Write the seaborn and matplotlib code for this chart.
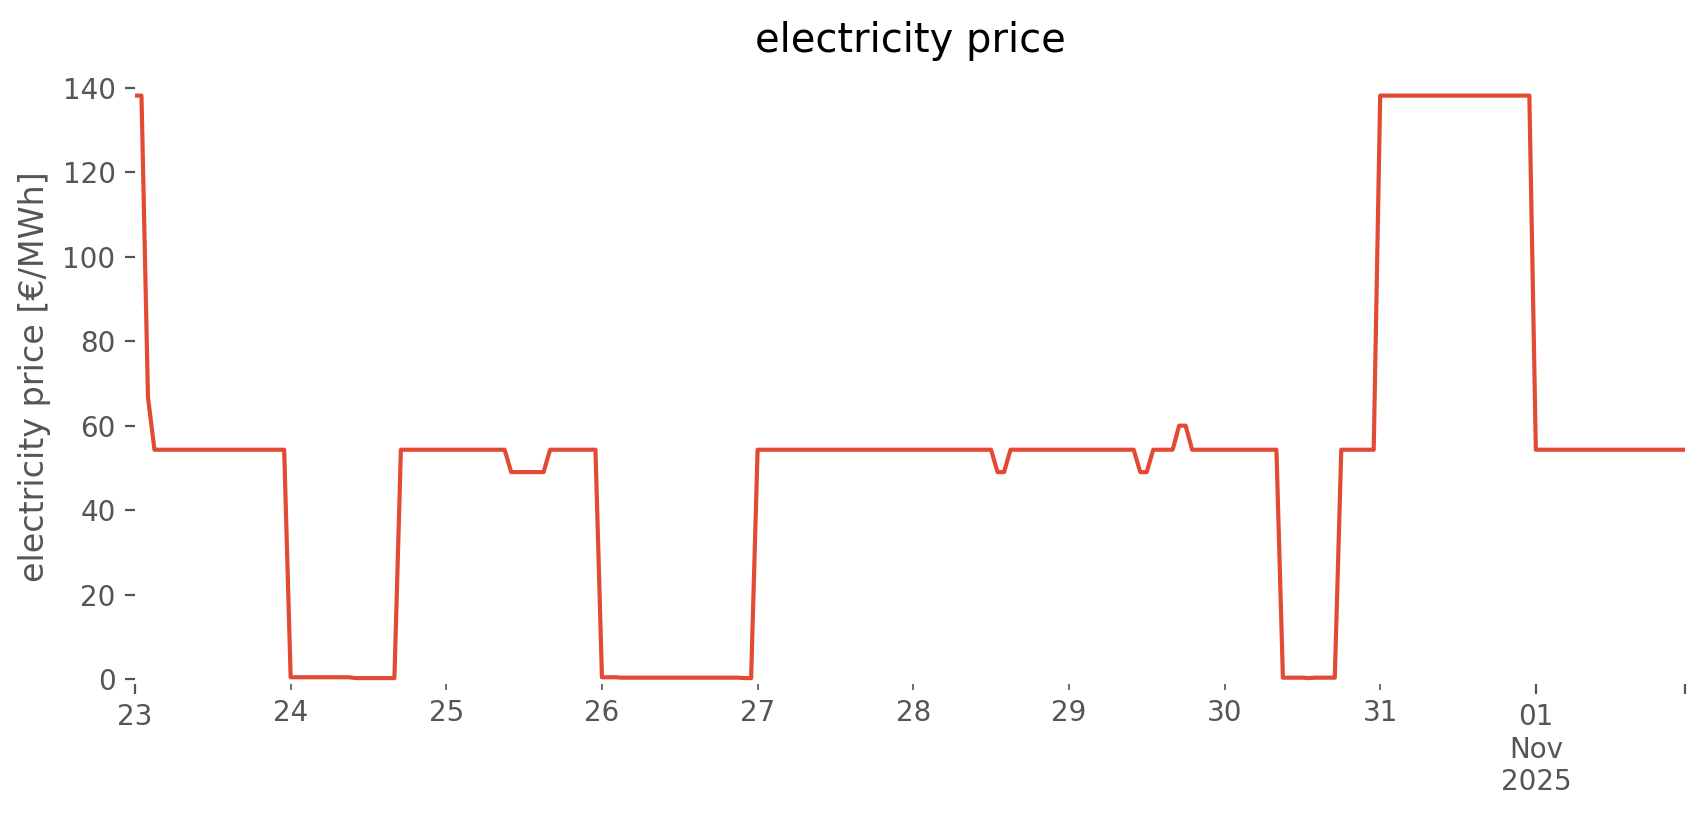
import pandas as pd
import matplotlib.pyplot as plt
import matplotlib.dates as mdates
from matplotlib.ticker import FixedLocator, FixedFormatter
import seaborn as sns

# hourly electricity price [€/MWh], one list per day
oct23 = [138.2, 138.2, 66.7, 54.3, 54.3, 54.3, 54.3, 54.3, 54.3, 54.3, 54.3, 54.3,
         54.3, 54.3, 54.3, 54.3, 54.3, 54.3, 54.3, 54.3, 54.3, 54.3, 54.3, 54.3]
oct24 = [0.4, 0.4, 0.4, 0.4, 0.4, 0.4, 0.4, 0.4, 0.4, 0.4, 0.2, 0.2,
         0.2, 0.2, 0.2, 0.2, 0.2, 54.3, 54.3, 54.3, 54.3, 54.3, 54.3, 54.3]
oct25 = [54.3, 54.3, 54.3, 54.3, 54.3, 54.3, 54.3, 54.3, 54.3, 54.3, 49.0, 49.0,
         49.0, 49.0, 49.0, 49.0, 54.3, 54.3, 54.3, 54.3, 54.3, 54.3, 54.3, 54.3]
oct26 = [0.4, 0.4, 0.4, 0.3, 0.3, 0.3, 0.3, 0.3, 0.3, 0.3, 0.3, 0.3,
         0.3, 0.3, 0.3, 0.3, 0.3, 0.3, 0.3, 0.3, 0.3, 0.3, 0.2, 0.2]
oct27 = [54.3, 54.3, 54.3, 54.3, 54.3, 54.3, 54.3, 54.3, 54.3, 54.3, 54.3, 54.3,
         54.3, 54.3, 54.3, 54.3, 54.3, 54.3, 54.3, 54.3, 54.3, 54.3, 54.3, 54.3]
oct28 = [54.3, 54.3, 54.3, 54.3, 54.3, 54.3, 54.3, 54.3, 54.3, 54.3, 54.3, 54.3,
         54.3, 49.0, 49.0, 54.3, 54.3, 54.3, 54.3, 54.3, 54.3, 54.3, 54.3, 54.3]
oct29 = [54.3, 54.3, 54.3, 54.3, 54.3, 54.3, 54.3, 54.3, 54.3, 54.3, 54.3, 49.0,
         49.0, 54.3, 54.3, 54.3, 54.3, 60.0, 60.0, 54.3, 54.3, 54.3, 54.3, 54.3]
oct30 = [54.3, 54.3, 54.3, 54.3, 54.3, 54.3, 54.3, 54.3, 54.3, 0.3, 0.3, 0.3,
         0.3, 0.2, 0.3, 0.3, 0.3, 0.3, 54.3, 54.3, 54.3, 54.3, 54.3, 54.3]
oct31 = [138.2, 138.2, 138.2, 138.2, 138.2, 138.2, 138.2, 138.2, 138.2, 138.2, 138.2, 138.2,
         138.2, 138.2, 138.2, 138.2, 138.2, 138.2, 138.2, 138.2, 138.2, 138.2, 138.2, 138.2]
nov01 = [54.3, 54.3, 54.3, 54.3, 54.3, 54.3, 54.3, 54.3, 54.3, 54.3, 54.3, 54.3,
         54.3, 54.3, 54.3, 54.3, 54.3, 54.3, 54.3, 54.3, 54.3, 54.3, 54.3, 54.3]

prices = oct23 + oct24 + oct25 + oct26 + oct27 + oct28 + oct29 + oct30 + oct31 + nov01
times = pd.date_range('2025-10-23 00:00', periods=len(prices), freq='h')

major_days = ['2025-10-23 00:00', '2025-11-01 00:00', '2025-11-01 23:00']
major_labels = ['23', '01\nNov\n2025', '']
minor_days = ['2025-10-24', '2025-10-25', '2025-10-26', '2025-10-27',
              '2025-10-28', '2025-10-29', '2025-10-30', '2025-10-31']
minor_labels = ['24', '25', '26', '27', '28', '29', '30', '31']

df = pd.DataFrame({'time': times, 'price': prices})

plt.style.use('ggplot')
plt.rcParams['axes.facecolor'] = 'white'
plt.rcParams['axes.grid'] = False

fig = plt.figure(figsize=(8.53, 4.075), dpi=200)
ax = fig.add_axes([135 / 1706, 1 - 684 / 815, 1550 / 1706, 615 / 815])

sns.lineplot(data=df, x='time', y='price', color='#E24A33', linewidth=1.5, ax=ax)

ax.set_xlim(times[0], times[-1])
ax.set_ylim(-1.2, 144.5)
ax.set_yticks([0, 20, 40, 60, 80, 100, 120, 140])

major_pos = mdates.date2num(pd.to_datetime(major_days, format='%Y-%m-%d %H:%M'))
minor_pos = mdates.date2num(pd.to_datetime(minor_days, format='%Y-%m-%d'))
ax.xaxis.set_major_locator(FixedLocator(major_pos))
ax.xaxis.set_major_formatter(FixedFormatter(major_labels))
ax.xaxis.set_minor_locator(FixedLocator(minor_pos))
ax.xaxis.set_minor_formatter(FixedFormatter(minor_labels))
ax.tick_params(axis='x', which='minor', colors='#555555', labelsize=10)

for s in ax.spines.values():
    s.set_visible(False)

ax.set_title('electricity price')
ax.set_xlabel('')
ax.set_ylabel('electricity price [€/MWh]')

fig.savefig('out.png', dpi=200)
